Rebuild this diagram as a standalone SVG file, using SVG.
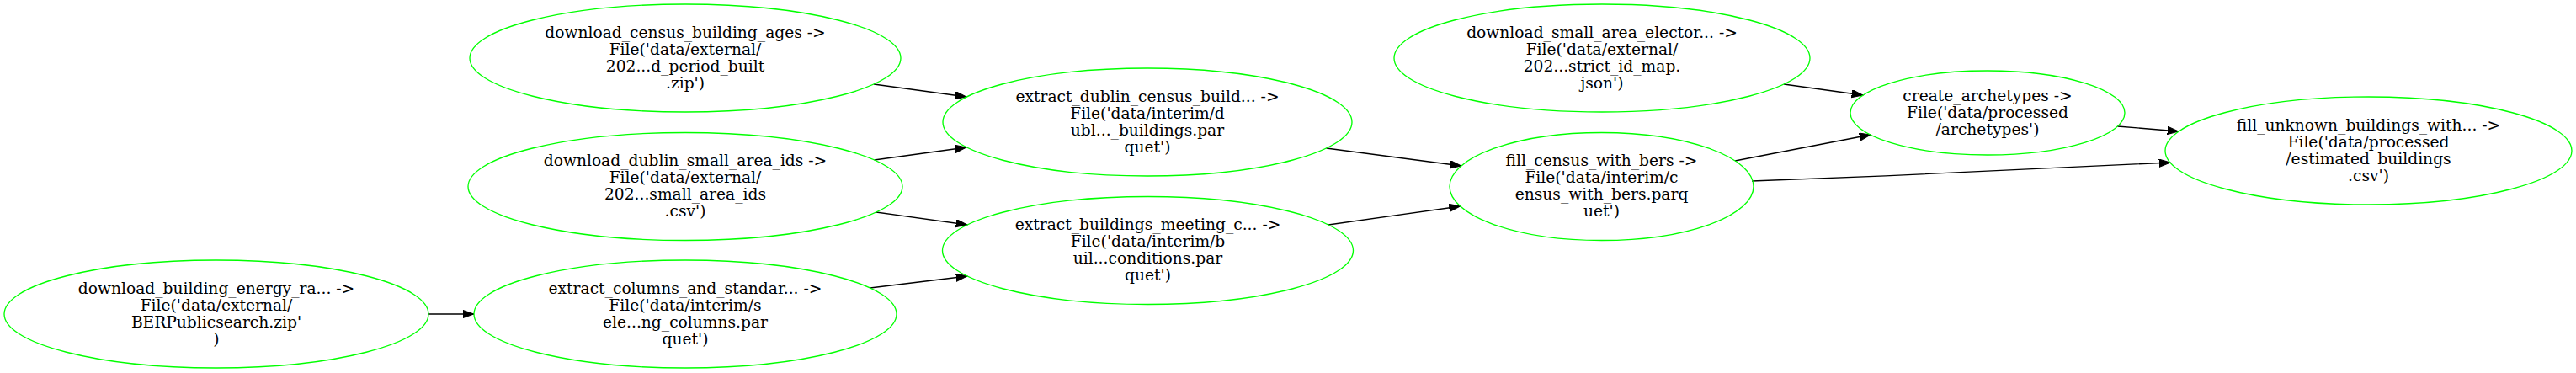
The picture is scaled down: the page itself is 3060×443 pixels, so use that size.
<svg xmlns="http://www.w3.org/2000/svg" width="3060" height="443" viewBox="0 0 3060 443">
<style>
.node ellipse{fill:none;stroke:#00ff00;stroke-width:1.33}
.node text{font-family:"DejaVu Serif",serif;font-size:18.67px;text-anchor:middle;fill:#000}
.edge path{fill:none;stroke:#000;stroke-width:1.33}
</style>
<defs>
<marker id="arr" markerUnits="userSpaceOnUse" markerWidth="14" markerHeight="10" refX="13.3" refY="4.67" orient="auto">
<path d="M0,0 L13.3,4.67 L0,9.33 z" fill="#000" stroke="#000" stroke-width="1"/>
</marker>
</defs>
<rect width="3060" height="443" fill="#fff"/>
<g id="edges" class="edge">
<path d="M1038,100 L1148,115" marker-end="url(#arr)"/>
<path d="M1038.6,190 L1148,175" marker-end="url(#arr)"/>
<path d="M1040.8,252 L1149,267" marker-end="url(#arr)"/>
<path d="M1033.6,342 L1149,328" marker-end="url(#arr)"/>
<path d="M509,373 L563,373" marker-end="url(#arr)"/>
<path d="M1575.6,176 L1735.7,197" marker-end="url(#arr)"/>
<path d="M1578,267 L1734.6,245" marker-end="url(#arr)"/>
<path d="M2119,100 L2213,113" marker-end="url(#arr)"/>
<path d="M2061,191 L2222,160" marker-end="url(#arr)"/>
<path d="M2081,215 C2250,209 2450,200 2578,193" marker-end="url(#arr)"/>
<path d="M2515.4,150 L2588,156" marker-end="url(#arr)"/>
</g>
<g id="download_census_building_ages" class="node">
<ellipse cx="814" cy="69" rx="256" ry="64"/>
<text x="814" y="44.6">download_census_building_ages -&gt;</text>
<text x="814" y="64.6">File('data/external/</text>
<text x="814" y="84.6">202...d_period_built</text>
<text x="814" y="104.6">.zip')</text>
</g>
<g id="download_dublin_small_area_ids" class="node">
<ellipse cx="814" cy="221.5" rx="258" ry="64"/>
<text x="814" y="197.1">download_dublin_small_area_ids -&gt;</text>
<text x="814" y="217.1">File('data/external/</text>
<text x="814" y="237.1">202...small_area_ids</text>
<text x="814" y="257.1">.csv')</text>
</g>
<g id="download_building_energy_ra" class="node">
<ellipse cx="257" cy="373" rx="252" ry="64"/>
<text x="257" y="348.6">download_building_energy_ra... -&gt;</text>
<text x="257" y="368.6">File('data/external/</text>
<text x="257" y="388.6">BERPublicsearch.zip'</text>
<text x="257" y="408.6">)</text>
</g>
<g id="extract_columns_and_standar" class="node">
<ellipse cx="814" cy="373" rx="251" ry="64"/>
<text x="814" y="348.6">extract_columns_and_standar... -&gt;</text>
<text x="814" y="368.6">File('data/interim/s</text>
<text x="814" y="388.6">ele...ng_columns.par</text>
<text x="814" y="408.6">quet')</text>
</g>
<g id="extract_dublin_census_build" class="node">
<ellipse cx="1363" cy="145" rx="243" ry="64"/>
<text x="1363" y="120.6">extract_dublin_census_build... -&gt;</text>
<text x="1363" y="140.6">File('data/interim/d</text>
<text x="1363" y="160.6">ubl..._buildings.par</text>
<text x="1363" y="180.6">quet')</text>
</g>
<g id="extract_buildings_meeting_c" class="node">
<ellipse cx="1363.5" cy="297.5" rx="244" ry="64"/>
<text x="1363.5" y="273.1">extract_buildings_meeting_c... -&gt;</text>
<text x="1363.5" y="293.1">File('data/interim/b</text>
<text x="1363.5" y="313.1">uil...conditions.par</text>
<text x="1363.5" y="333.1">quet')</text>
</g>
<g id="download_small_area_elector" class="node">
<ellipse cx="1903" cy="69" rx="247" ry="64"/>
<text x="1903" y="44.6">download_small_area_elector... -&gt;</text>
<text x="1903" y="64.6">File('data/external/</text>
<text x="1903" y="84.6">202...strict_id_map.</text>
<text x="1903" y="104.6">json')</text>
</g>
<g id="fill_census_with_bers" class="node">
<ellipse cx="1902.5" cy="221.5" rx="180.5" ry="64"/>
<text x="1902.5" y="197.1">fill_census_with_bers -&gt;</text>
<text x="1902.5" y="217.1">File('data/interim/c</text>
<text x="1902.5" y="237.1">ensus_with_bers.parq</text>
<text x="1902.5" y="257.1">uet')</text>
</g>
<g id="create_archetypes" class="node">
<ellipse cx="2361" cy="134" rx="163" ry="50"/>
<text x="2361" y="119.6">create_archetypes -&gt;</text>
<text x="2361" y="139.6">File('data/processed</text>
<text x="2361" y="159.6">/archetypes')</text>
</g>
<g id="fill_unknown_buildings_with" class="node">
<ellipse cx="2813.5" cy="179" rx="241.5" ry="64"/>
<text x="2813.5" y="154.6">fill_unknown_buildings_with... -&gt;</text>
<text x="2813.5" y="174.6">File('data/processed</text>
<text x="2813.5" y="194.6">/estimated_buildings</text>
<text x="2813.5" y="214.6">.csv')</text>
</g>
</svg>
